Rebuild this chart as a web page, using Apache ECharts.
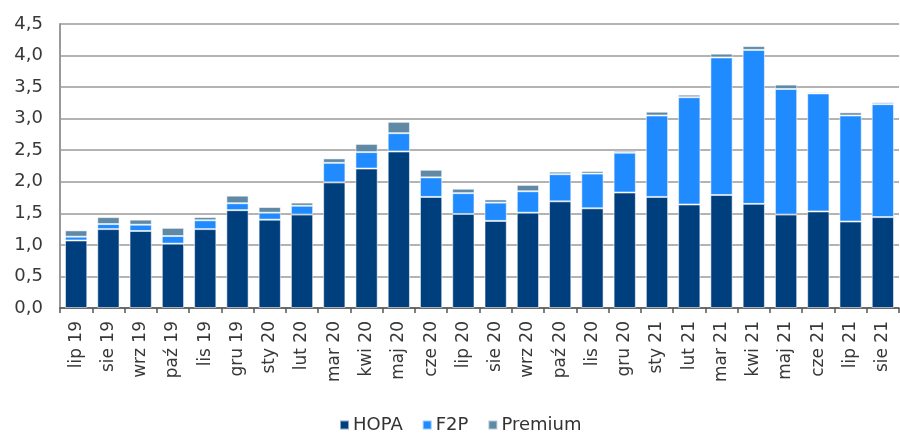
<!DOCTYPE html>
<html>
<head>
<meta charset="utf-8">
<script src="https://cdn.jsdelivr.net/npm/echarts@6/dist/echarts.min.js"></script>
<style>html,body{margin:0;padding:0;background:#fff;}#c{width:900px;height:433px;}</style>
</head>
<body>
<div id="c"></div>
<script>
const categories = ['lip 19','sie 19','wrz 19','paź 19','lis 19','gru 19','sty 20','lut 20','mar 20','kwi 20','maj 20','cze 20','lip 20','sie 20','wrz 20','paź 20','lis 20','gru 20','sty 21','lut 21','mar 21','kwi 21','maj 21','cze 21','lip 21','sie 21'];
const hopa    = [1.07,1.25,1.22,1.02,1.25,1.55,1.40,1.48,1.99,2.21,2.48,1.76,1.49,1.38,1.51,1.69,1.58,1.83,1.76,1.64,1.79,1.65,1.48,1.53,1.37,1.44];
const f2p     = [0.06,0.08,0.10,0.12,0.14,0.11,0.11,0.14,0.31,0.26,0.29,0.31,0.33,0.29,0.34,0.43,0.55,0.63,1.29,1.70,2.18,2.44,1.99,1.87,1.68,1.79];
const premium = [0.10,0.11,0.08,0.13,0.05,0.12,0.09,0.05,0.07,0.13,0.18,0.12,0.07,0.05,0.10,0.04,0.04,0.03,0.06,0.04,0.06,0.06,0.07,0.02,0.05,0.03];
const seriesNames = ['HOPA','F2P','Premium'];
const colors = ['#003F7D','#1F8BFF','#6089A6'];

const chart = echarts.init(document.getElementById('c'));
const font = 'DejaVu Sans';
const mk = (name, data, color) => ({
  name, type: 'bar', stack: 'total', data,
  barCategoryGap: '31%',
  itemStyle: { color, borderColor: 'rgba(255,255,255,0.55)', borderWidth: 1 },
  emphasis: { disabled: true }
});
chart.setOption({
  animation: false,
  color: colors,
  grid: { left: 60, right: 1, top: 24, bottom: 125 },
  legend: {
    left: 334, top: 411,
    itemWidth: 9, itemHeight: 9, itemGap: 19,
    icon: 'rect',
    textStyle: { fontFamily: font, fontSize: 18, color: '#333', padding: [0,0,0,-1] },
    data: seriesNames
  },
  xAxis: {
    type: 'category', data: categories,
    axisLine: { lineStyle: { color: '#555', width: 1.5 } },
    axisTick: { show: true, length: 5, lineStyle: { color: '#555', width: 1.5 } },
    axisLabel: { rotate: 90, interval: 0, margin: 13, fontFamily: font, fontSize: 17, color: '#383838' }
  },
  yAxis: {
    type: 'value', min: 0, max: 4.5, interval: 0.5,
    axisLine: { show: true, lineStyle: { color: '#999', width: 2 } },
    axisTick: { show: false },
    splitLine: { lineStyle: { color: '#b3b3b3', width: 2 } },
    axisLabel: { margin: 17, fontFamily: font, fontSize: 18, color: '#383838',
      formatter: v => v.toFixed(1).replace('.', ',') }
  },
  series: [mk(seriesNames[0], hopa, colors[0]), mk(seriesNames[1], f2p, colors[1]), mk(seriesNames[2], premium, colors[2])]
});
</script>
</body>
</html>
